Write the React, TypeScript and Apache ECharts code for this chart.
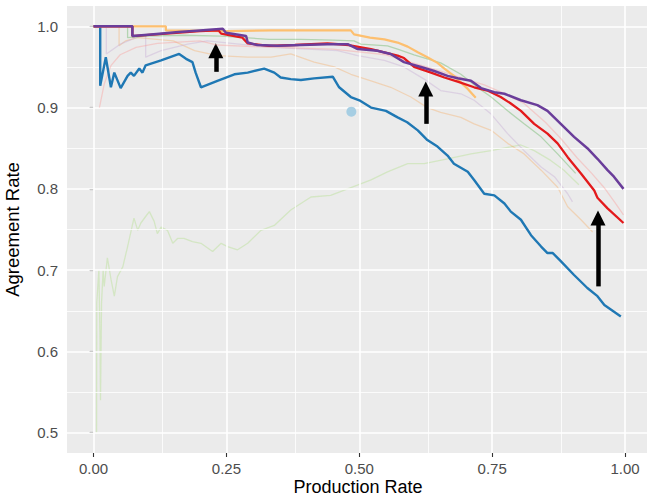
import React, { useEffect, useRef } from "react";
import * as echarts from "echarts";

const xTicks = [0, 0.25, 0.5, 0.75, 1.0];
const xMinor = [0.125, 0.375, 0.625, 0.875];
const yTicks = [0.5, 0.6, 0.7, 0.8, 0.9, 1.0];
const yMinor = [0.55, 0.65, 0.75, 0.85, 0.95];

const blue = [
  [0, 1.0], [0.0125, 1.0], [0.0125, 0.927], [0.023, 0.962], [0.0326, 0.925], [0.039, 0.943], [0.051, 0.924],
  [0.064, 0.939], [0.07, 0.943], [0.076, 0.939], [0.086, 0.948], [0.092, 0.943], [0.098, 0.952], [0.127, 0.958],
  [0.161, 0.966], [0.174, 0.96], [0.186, 0.956], [0.192, 0.943], [0.202, 0.925], [0.233, 0.933], [0.265, 0.941],
  [0.29, 0.943], [0.321, 0.948], [0.34, 0.943], [0.352, 0.937], [0.371, 0.935], [0.39, 0.934], [0.415, 0.936],
  [0.45, 0.938], [0.462, 0.925], [0.484, 0.913], [0.5, 0.909], [0.522, 0.9], [0.55, 0.896], [0.572, 0.888],
  [0.59, 0.882], [0.61, 0.872], [0.628, 0.86], [0.647, 0.852], [0.666, 0.841], [0.678, 0.831], [0.704, 0.821],
  [0.716, 0.811], [0.735, 0.794], [0.754, 0.792], [0.773, 0.782], [0.785, 0.772], [0.804, 0.762], [0.823, 0.743],
  [0.842, 0.729], [0.854, 0.721], [0.864, 0.721], [0.879, 0.711], [0.904, 0.694], [0.929, 0.678], [0.948, 0.668],
  [0.961, 0.657], [0.992, 0.643],
];

const purple = [
  [0, 1.0], [0.073, 1.0], [0.073, 0.988], [0.108, 0.99], [0.16, 0.993], [0.2, 0.995], [0.243, 0.997], [0.249, 0.992],
  [0.287, 0.988], [0.29, 0.98], [0.308, 0.977], [0.346, 0.976], [0.39, 0.977], [0.44, 0.978], [0.478, 0.978],
  [0.497, 0.972], [0.534, 0.97], [0.559, 0.966], [0.584, 0.956], [0.616, 0.95], [0.641, 0.945], [0.666, 0.939],
  [0.685, 0.936], [0.71, 0.933], [0.729, 0.924], [0.754, 0.919], [0.773, 0.917], [0.804, 0.909], [0.835, 0.903],
  [0.854, 0.896], [0.879, 0.88], [0.904, 0.864], [0.929, 0.85], [0.948, 0.837], [0.967, 0.823], [0.979, 0.815],
  [0.997, 0.8],
];

const red = [
  [0, 1.0], [0.073, 1.0], [0.073, 0.988], [0.2, 0.994], [0.235, 0.995], [0.24, 0.991], [0.28, 0.986], [0.29, 0.979],
  [0.33, 0.976], [0.379, 0.977], [0.44, 0.979], [0.48, 0.977], [0.522, 0.972], [0.572, 0.964], [0.584, 0.961],
  [0.603, 0.95], [0.635, 0.943], [0.66, 0.937], [0.685, 0.932], [0.716, 0.925], [0.741, 0.921], [0.766, 0.913],
  [0.785, 0.905], [0.804, 0.896], [0.829, 0.88], [0.854, 0.868], [0.873, 0.856], [0.892, 0.839], [0.917, 0.819],
  [0.942, 0.798], [0.948, 0.789], [0.967, 0.776], [0.997, 0.758],
];

const orange = [
  [0, 1.0], [0.136, 1.0], [0.136, 0.995], [0.25, 0.994], [0.334, 0.995], [0.484, 0.995], [0.49, 0.99],
  [0.52, 0.986], [0.547, 0.984], [0.572, 0.98], [0.591, 0.975], [0.61, 0.968], [0.628, 0.962], [0.647, 0.955],
  [0.66, 0.948], [0.678, 0.939], [0.704, 0.923], [0.719, 0.912],
];

const green = [
  [0, 1.0], [0.064, 1.0], [0.064, 0.986], [0.1, 0.988], [0.17, 0.989], [0.24, 0.988], [0.33, 0.984], [0.39, 0.984],
  [0.45, 0.983], [0.49, 0.982], [0.503, 0.978], [0.553, 0.976], [0.572, 0.972], [0.603, 0.965], [0.628, 0.96],
  [0.653, 0.955], [0.691, 0.941], [0.722, 0.925], [0.748, 0.913], [0.779, 0.896], [0.81, 0.88], [0.842, 0.864],
  [0.873, 0.843], [0.907, 0.819],
];

const paleGreen = [
  [0.0056, 0.5], [0.006, 0.66], [0.01, 0.7], [0.012, 0.62], [0.013, 0.54], [0.015, 0.66], [0.018, 0.7],
  [0.02, 0.68], [0.026, 0.715], [0.033, 0.688], [0.039, 0.668], [0.045, 0.692], [0.055, 0.704], [0.064, 0.729],
  [0.076, 0.764], [0.083, 0.749], [0.089, 0.758], [0.098, 0.766], [0.105, 0.772], [0.114, 0.76], [0.12, 0.745],
  [0.127, 0.753], [0.139, 0.749], [0.149, 0.733], [0.158, 0.739], [0.17, 0.739], [0.186, 0.735], [0.202, 0.733],
  [0.224, 0.723], [0.24, 0.733], [0.252, 0.729], [0.271, 0.725], [0.29, 0.733], [0.315, 0.749], [0.34, 0.755],
  [0.371, 0.774], [0.409, 0.79], [0.446, 0.792], [0.478, 0.8], [0.522, 0.811], [0.553, 0.821], [0.591, 0.831],
  [0.622, 0.831], [0.666, 0.837], [0.71, 0.843], [0.748, 0.847], [0.779, 0.851], [0.804, 0.854], [0.829, 0.847],
  [0.86, 0.835], [0.885, 0.823], [0.913, 0.805],
];

const pink = [
  [0.011, 0.9], [0.02, 0.929], [0.033, 0.952], [0.05, 0.965], [0.08, 0.974], [0.12, 0.979], [0.2, 0.982],
  [0.233, 0.977], [0.3, 0.975], [0.45, 0.972], [0.55, 0.965], [0.653, 0.945], [0.7, 0.935], [0.735, 0.928],
  [0.77, 0.918], [0.81, 0.905], [0.85, 0.882], [0.879, 0.862], [0.91, 0.838], [0.936, 0.82], [0.96, 0.802],
  [0.98, 0.784], [0.997, 0.768],
];

const lavender = [
  [0, 1.0], [0.024, 1.0], [0.024, 0.966], [0.05, 0.978], [0.08, 0.986], [0.098, 0.99], [0.098, 0.962],
  [0.127, 0.97], [0.177, 0.978], [0.214, 0.982], [0.26, 0.979], [0.334, 0.974], [0.459, 0.97], [0.497, 0.964],
  [0.547, 0.958], [0.584, 0.95], [0.622, 0.935], [0.653, 0.921], [0.691, 0.917], [0.716, 0.909], [0.748, 0.892],
  [0.779, 0.868], [0.81, 0.847], [0.842, 0.827], [0.867, 0.815], [0.892, 0.794], [0.901, 0.784],
];

const peach = [
  [0, 1.0], [0.048, 1.0], [0.048, 0.976], [0.06, 0.982], [0.083, 0.986], [0.15, 0.982], [0.19, 0.97],
  [0.233, 0.964], [0.29, 0.962], [0.334, 0.962], [0.371, 0.966], [0.415, 0.956], [0.453, 0.95], [0.484, 0.941],
  [0.522, 0.933], [0.559, 0.925], [0.597, 0.913], [0.628, 0.9], [0.653, 0.894], [0.691, 0.888], [0.716, 0.88],
  [0.748, 0.872], [0.779, 0.856], [0.81, 0.843], [0.842, 0.823], [0.873, 0.802], [0.892, 0.778], [0.917, 0.762],
  [0.939, 0.747],
];

const lightBluePoint = [[0.485, 0.895]];

// arrows: [x, yStart, yHeadCenter]
const arrows = [
  [0.23, 0.944, 0.97],
  [0.625, 0.88, 0.923],
  [0.949, 0.68, 0.764],
];

const FONT = "'Liberation Sans', Arial, Helvetica, sans-serif";

export default function App() {
  const ref = useRef<HTMLDivElement>(null);
  useEffect(() => {
    if (!ref.current) return;
    const chart = echarts.init(ref.current, undefined, { renderer: "svg" });

    const thin = (data: number[][], color: string, opacity: number, z: number) => ({
      type: "line",
      data,
      showSymbol: false,
      symbol: "none",
      silent: true,
      z,
      lineStyle: { color, width: 1.3, opacity },
    });
    const thick = (data: number[][], color: string, width: number, z: number) => ({
      type: "line",
      data,
      showSymbol: false,
      symbol: "none",
      silent: true,
      z,
      lineStyle: { color, width },
    });

    const gridLines = {
      type: "line",
      data: [],
      silent: true,
      z: 1,
      markLine: {
        silent: true,
        symbol: "none",
        label: { show: false },
        animation: false,
        data: [
          ...xMinor.map((v) => ({ xAxis: v, lineStyle: { color: "#ffffff", width: 0.8, type: "solid" } })),
          ...yMinor.map((v) => ({ yAxis: v, lineStyle: { color: "#ffffff", width: 0.8, type: "solid" } })),
          ...xTicks.map((v) => ({ xAxis: v, lineStyle: { color: "#ffffff", width: 1.6, type: "solid" } })),
          ...yTicks.map((v) => ({ yAxis: v, lineStyle: { color: "#ffffff", width: 1.6, type: "solid" } })),
        ],
      },
    };

    const arrowSeries = {
      type: "line",
      data: [],
      silent: true,
      z: 20,
      markLine: {
        silent: true,
        symbol: ["none", "triangle"],
        symbolSize: 15,
        label: { show: false },
        animation: false,
        lineStyle: { color: "#000000", width: 4.5, type: "solid" },
        itemStyle: { color: "#000000" },
        data: arrows.map((a) => [{ coord: [a[0], a[1]] }, { coord: [a[0], a[2]] }]),
      },
    };

    chart.setOption({
      animation: false,
      backgroundColor: "#ffffff",
      grid: {
        left: 67,
        top: 6,
        width: 582,
        height: 447,
        show: true,
        backgroundColor: "#EBEBEB",
        borderWidth: 0,
        containLabel: false,
        outerBoundsMode: "none",
      },
      xAxis: {
        type: "value",
        min: -0.05,
        max: 1.045,
        splitLine: { show: false },
        axisLine: { show: false },
        axisTick: { show: true, length: 4, lineStyle: { color: "#333333", width: 1.1 }, customValues: xTicks },
        axisLabel: {
          customValues: xTicks,
          formatter: (v: number) => v.toFixed(2),
          color: "#4D4D4D",
          fontSize: 15,
          fontFamily: FONT,
          margin: 8,
        },
        name: "Production Rate",
        nameLocation: "middle",
        nameGap: 25,
        nameMoveOverlap: false,
        nameTextStyle: { color: "#000000", fontSize: 18, lineHeight: 18, fontFamily: FONT, verticalAlign: "top" },
      },
      yAxis: {
        type: "value",
        min: 0.475,
        max: 1.025,
        splitLine: { show: false },
        axisLine: { show: false },
        axisTick: { show: true, length: 4, lineStyle: { color: "#333333", width: 1.1 }, customValues: yTicks },
        axisLabel: {
          customValues: yTicks,
          formatter: (v: number) => v.toFixed(1),
          color: "#4D4D4D",
          fontSize: 15,
          fontFamily: FONT,
          margin: 9,
        },
        name: "Agreement Rate",
        nameLocation: "middle",
        nameGap: 45,
        nameTextStyle: { color: "#000000", fontSize: 18.5, fontFamily: FONT },
      },
      series: [
        gridLines,
        thin(paleGreen, "#B2DF8A", 0.4, 2),
        thin(peach, "#FF7F00", 0.22, 3),
        thin(lavender, "#CAB2D6", 0.45, 4),
        thin(pink, "#FB9A99", 0.4, 5),
        thin(green, "#33A02C", 0.3, 6),
        {
          type: "scatter",
          data: lightBluePoint,
          symbolSize: 10,
          silent: true,
          z: 7,
          itemStyle: { color: "#A6CEE3", opacity: 1 },
        },
        thick(blue, "#1F78B4", 2.4, 8),
        thick(orange, "#FDBF6F", 2.2, 9),
        thick(red, "#E31A1C", 2.3, 10),
        thick(purple, "#6A3D9A", 2.5, 11),
        arrowSeries,
      ],
    });
    return () => chart.dispose();
  }, []);
  return <div ref={ref} style={{ position: "fixed", left: 0, top: 0, width: 647, height: 498 }} />;
}
